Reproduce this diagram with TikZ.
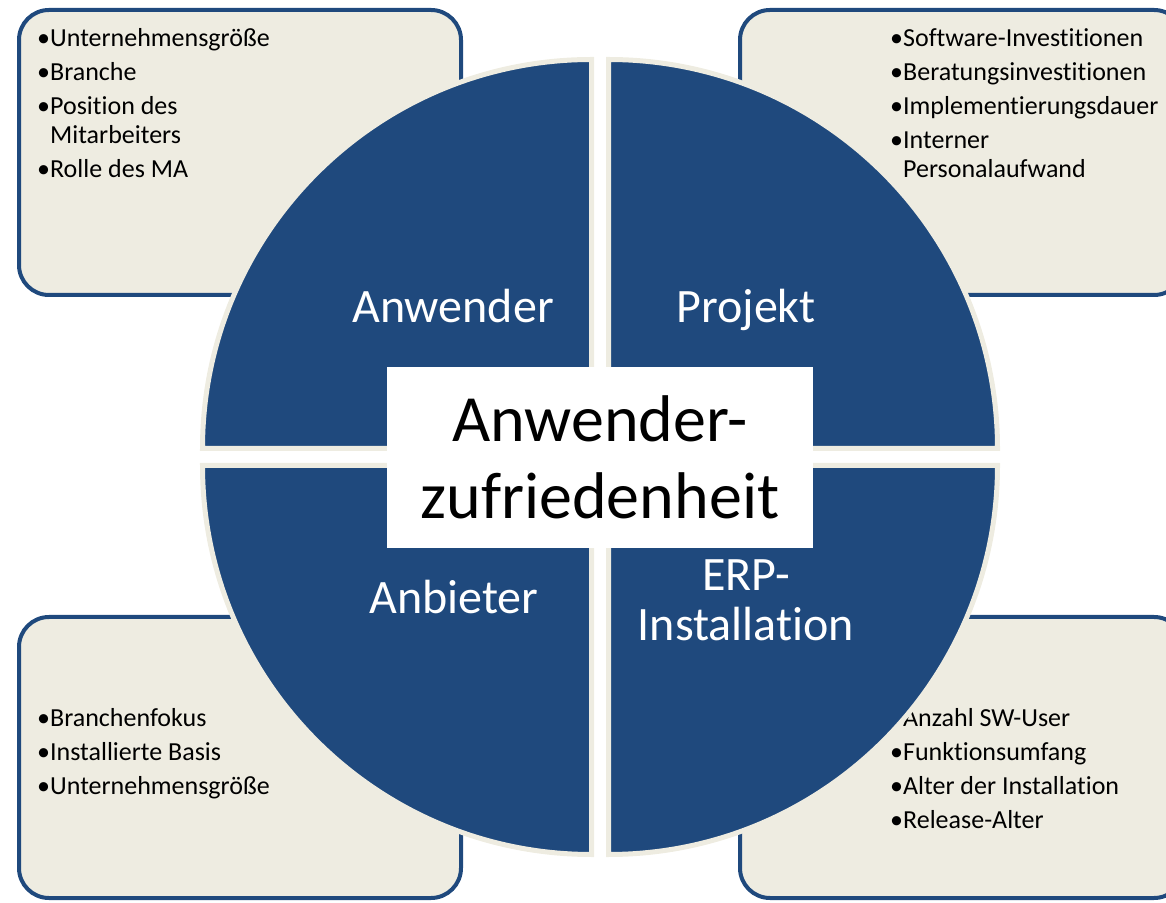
\documentclass[tikz,border=0pt]{standalone}
\usepackage{fontspec}
\setmainfont{Carlito}[RawFeature={-liga;-clig;-dlig;-calt;-ccmp;-rlig}]
\usetikzlibrary{positioning}
\definecolor{quadblue}{RGB}{31,73,125}
\definecolor{tanbg}{RGB}{238,236,225}
\tikzset{x=1pt, y=1pt,
  infobox/.style={draw=quadblue, fill=tanbg, line width=4pt, rounded corners=30pt,
    outer sep=0pt, inner sep=0pt},
  listtext/.style={inner sep=0pt, align=left, font=\fontsize{26}{29}\selectfont},
  quadrant/.style={fill=quadblue, draw=tanbg, line width=5pt},
  quadlabel/.style={text=white, inner sep=0pt, font=\fontsize{48}{50}\selectfont}}

\begin{document}
\begin{tikzpicture}
        \useasboundingbox (0,0) rectangle (1166,902);

        % the four boxes behind the circle
        \node[infobox, minimum width=442pt, minimum height=285pt] (boxTL) at (240,749.5) {};
        \node[infobox, minimum width=444pt, minimum height=285pt] (boxTR) at (962,749.5) {};
        \node[infobox, minimum width=442pt, minimum height=281pt] (boxBL) at (240,144.5) {};
        \node[infobox, minimum width=444pt, minimum height=281pt] (boxBR) at (962,144.5) {};

        \node[listtext, below right=16pt and 18pt of boxTL.north west] (listTL)
          {\strut•Unternehmensgröße\\[5pt]
           •Branche\\[5pt]
           •Position des\\\hphantom{•}Mitarbeiters\\[5pt]
           •Rolle des MA};
        \node[listtext, below right=16pt and 150pt of boxTR.north west] (listTR)
          {\strut•Software-Investitionen\\[5pt]
           •Beratungsinvestitionen\\[5pt]
           •Implementierungsdauer\\[5pt]
           •Interner\\\hphantom{•}Personalaufwand};
        \node[listtext, below right=89pt and 18pt of boxBL.north west] (listBL)
          {\strut•Branchenfokus\\[5pt]
           •Installierte Basis\\[5pt]
           •Unternehmensgröße};
        \node[listtext, below right=89pt and 150pt of boxBR.north west] (listBR)
          {\strut•Anzahl SW-User\\[5pt]
           •Funktionsumfang\\[5pt]
           •Alter der Installation\\[5pt]
           •Release-Alter};

        % quarter circles
        \coordinate (cTL) at (591.5,453.5);
        \coordinate (cTR) at (608.5,453.5);
        \coordinate (cBL) at (591.5,436.5);
        \coordinate (cBR) at (608.5,436.5);
        \draw[quadrant] (cTL) -- ++(-389pt,0) arc[start angle=180, end angle=90, radius=389pt] -- cycle;
        \draw[quadrant] (cTR) -- ++(0,389pt) arc[start angle=90, end angle=0, radius=389pt] -- cycle;
        \draw[quadrant] (cBL) -- ++(0,-389pt) arc[start angle=270, end angle=180, radius=389pt] -- cycle;
        \draw[quadrant] (cBR) -- ++(389pt,0) arc[start angle=0, end angle=-90, radius=389pt] -- cycle;

        \node[quadlabel, anchor=base] (anw) at (453,579) {Anwender};
        \node[quadlabel, anchor=base] (proj) at (746,579) {Projekt};
        \node[quadlabel, anchor=base] (anb) at (454,288) {Anbieter};
        \node[quadlabel, anchor=north, align=center] (erp) at (746,347) {\strut ERP-\\Installation};

        \node[fill=white, minimum width=426pt, minimum height=181pt, inner sep=0pt,
          align=center, font=\fontsize{66}{77}\selectfont] (zufr) at (600,444.5)
          {Anwender-\\zufriedenheit};
      \end{tikzpicture}
\end{document}
